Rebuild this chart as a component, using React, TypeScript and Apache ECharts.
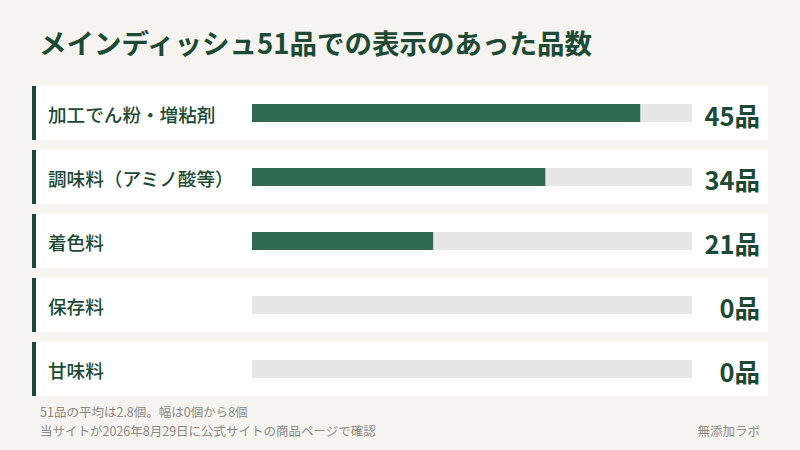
import React, { useEffect, useRef } from 'react';
import * as echarts from 'echarts';

const categories = ['加工でん粉・増粘剤', '調味料（アミノ酸等）', '着色料', '保存料', '甘味料'];
const counts = [45, 34, 21, 0, 0];
const totalItems = 51;
const unit = '品';

const titleText = 'メインディッシュ51品での表示のあった品数';
const noteLines = ['51品の平均は2.8個。幅は0個から8個', '当サイトが2026年8月29日に公式サイトの商品ページで確認'];
const sourceText = '無添加ラボ';

const FONT = '"Noto Sans CJK JP", "Noto Sans", sans-serif';
const DARK = '#1e4a35';
const GRAY = '#8a8a86';

const App: React.FC = () => {
  const chartRef = useRef<HTMLDivElement>(null);

  useEffect(() => {
    const chart = echarts.init(chartRef.current!, undefined, { renderer: 'svg' });

    const option = {
      animation: false,
      backgroundColor: '#f5f4f0',
      textStyle: { fontFamily: FONT },
      title: {
        text: titleText,
        left: 34,
        top: 23,
        textStyle: { fontFamily: FONT, fontSize: 27.5, fontWeight: 'bold', color: DARK },
      },
      grid: { left: 252, right: 108, top: 81, bottom: 49 },
      xAxis: { type: 'value', min: 0, max: totalItems, show: false },
      yAxis: {
        type: 'category',
        data: categories,
        inverse: true,
        z: 5,
        axisLine: { show: false },
        axisTick: { show: false },
        splitLine: { show: false },
        axisLabel: {
          align: 'left',
          margin: 204,
          fontFamily: FONT,
          fontSize: 18.6,
          fontWeight: 500,
          color: DARK,
        },
      },
      series: [
        {
          type: 'custom',
          z: 1,
          silent: true,
          data: categories.map((_, i) => [0, i, counts[i]]),
          renderItem: (params: any, api: any) => {
            const cs = params.coordSys;
            const pt = api.coord([0, api.value(1)]);
            const left = cs.x - 220;
            const width = cs.width + 220 + 76;
            return {
              type: 'group',
              children: [
                { type: 'rect', shape: { x: left, y: pt[1] - 27, width, height: 54 }, style: { fill: '#ffffff' } },
                { type: 'rect', shape: { x: left, y: pt[1] - 27, width: 4, height: 54 }, style: { fill: DARK } },
                {
                  type: 'text',
                  x: cs.x + cs.width + 68,
                  y: pt[1] + 1,
                  style: {
                    text: api.value(2) + unit,
                    align: 'right',
                    verticalAlign: 'middle',
                    fontFamily: FONT,
                    fontSize: 25.5,
                    fontWeight: 'bold',
                    fill: DARK,
                  },
                },
              ],
            };
          },
        },
        {
          type: 'bar',
          z: 3,
          data: counts,
          barWidth: 18,
          itemStyle: { color: '#2e6b50' },
          showBackground: true,
          backgroundStyle: { color: '#e6e7e3' },
        },
      ],
      graphic: [
        {
          type: 'text',
          left: 40,
          top: 405,
          style: { text: noteLines[0], fontFamily: FONT, fontSize: 12.5, lineHeight: 12.5, fill: GRAY },
        },
        {
          type: 'text',
          left: 40,
          top: 424,
          style: { text: noteLines[1], fontFamily: FONT, fontSize: 12.5, lineHeight: 12.5, fill: GRAY },
        },
        {
          type: 'text',
          right: 40,
          top: 424,
          style: { text: sourceText, fontFamily: FONT, fontSize: 12.5, lineHeight: 12.5, fill: GRAY },
        },
      ],
    };

    chart.setOption(option);
    const onResize = () => chart.resize();
    window.addEventListener('resize', onResize);
    return () => {
      window.removeEventListener('resize', onResize);
      chart.dispose();
    };
  }, []);

  return (
    <div
      ref={chartRef}
      style={{ position: 'fixed', left: 0, top: 0, width: '800px', height: '450px' }}
    />
  );
};

export default App;
